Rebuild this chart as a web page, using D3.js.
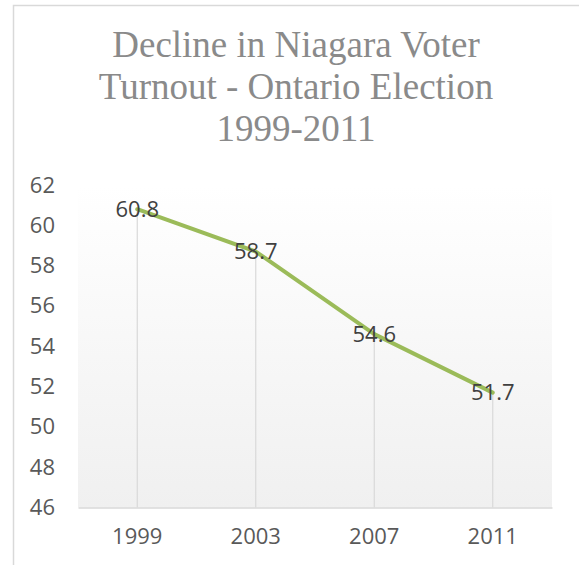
<!DOCTYPE html>
<html>
<head>
<meta charset="utf-8">
<script src="https://cdn.jsdelivr.net/npm/d3@7"></script>
<style>
html,body{margin:0;padding:0;background:#fff;}
svg{display:block;}
</style>
</head>
<body>
<svg id="chart" width="579" height="565"></svg>
<script>
const titleLines = ["Decline in Niagara Voter", "Turnout - Ontario Election", "1999-2011"];
const years = ["1999", "2003", "2007", "2011"];
const turnout = [60.8, 58.7, 54.6, 51.7];
const yTicks = [46, 48, 50, 52, 54, 56, 58, 60, 62];

const svg = d3.select("#chart");
const W = 579, H = 565;
const plot = {left: 78, right: 552, top: 185, bottom: 507.5};

// frame
svg.append("path")
  .attr("d", `M13.5,${H} L13.5,5.5 L${W},5.5`)
  .attr("fill", "none").attr("stroke", "#d9d9d9").attr("stroke-width", 1.5);

// title
const title = svg.append("text")
  .attr("text-anchor", "middle")
  .attr("font-family", "'Liberation Serif', 'DejaVu Serif', serif")
  .attr("font-size", 37)
  .attr("fill", "#8a8a8a");
titleLines.forEach((t, i) => {
  title.append("tspan").attr("x", 296).attr("y", 57 + i * 41.8).text(t);
});

const x = d3.scaleBand().domain(years).range([plot.left, plot.right]);
const y = d3.scaleLinear().domain([46, 62]).range([plot.bottom, plot.top]);

// plot background gradient
const defs = svg.append("defs");
const grad = defs.append("linearGradient").attr("id", "bg").attr("x1", 0).attr("y1", 0).attr("x2", 0).attr("y2", 1);
grad.append("stop").attr("offset", "0%").attr("stop-color", "#ffffff");
grad.append("stop").attr("offset", "100%").attr("stop-color", "#f0f0f0");
svg.append("rect")
  .attr("x", plot.left).attr("y", plot.top)
  .attr("width", plot.right - plot.left).attr("height", plot.bottom - plot.top)
  .attr("fill", "url(#bg)");

// drop lines
svg.append("g").selectAll("line").data(turnout).join("line")
  .attr("x1", (d, i) => x(years[i]) + x.bandwidth() / 2)
  .attr("x2", (d, i) => x(years[i]) + x.bandwidth() / 2)
  .attr("y1", d => y(d))
  .attr("y2", plot.bottom)
  .attr("stroke", "#d9d9d9").attr("stroke-width", 1.2);

// x axis
const xAxis = svg.append("g").attr("transform", `translate(0,${plot.bottom})`)
  .call(d3.axisBottom(x).tickSize(0).tickPadding(21));
xAxis.select(".domain").attr("stroke", "#d9d9d9").attr("stroke-width", 1.5);
xAxis.selectAll("text")
  .attr("font-family", "'Open Sans', sans-serif").attr("font-size", 22).attr("fill", "#595959");

// y axis labels
const yAxis = svg.append("g").attr("transform", `translate(${plot.left},0)`)
  .call(d3.axisLeft(y).tickValues(yTicks).tickSize(0).tickPadding(23));
yAxis.select(".domain").remove();
yAxis.selectAll("text")
  .attr("font-family", "'Open Sans', sans-serif").attr("font-size", 22).attr("fill", "#595959");

// line
const line = d3.line()
  .x((d, i) => x(years[i]) + x.bandwidth() / 2)
  .y(d => y(d));
svg.append("path").datum(turnout)
  .attr("d", line)
  .attr("fill", "none").attr("stroke", "#9bbb59").attr("stroke-width", 4)
  .attr("stroke-linejoin", "round").attr("stroke-linecap", "round");

// data labels
svg.append("g").selectAll("text").data(turnout).join("text")
  .attr("x", (d, i) => x(years[i]) + x.bandwidth() / 2)
  .attr("y", d => y(d))
  .attr("dy", "0.35em")
  .attr("text-anchor", "middle")
  .attr("font-family", "'Open Sans', sans-serif").attr("font-size", 22).attr("fill", "#404040")
  .text(d => d.toFixed(1));
</script>
</body>
</html>
